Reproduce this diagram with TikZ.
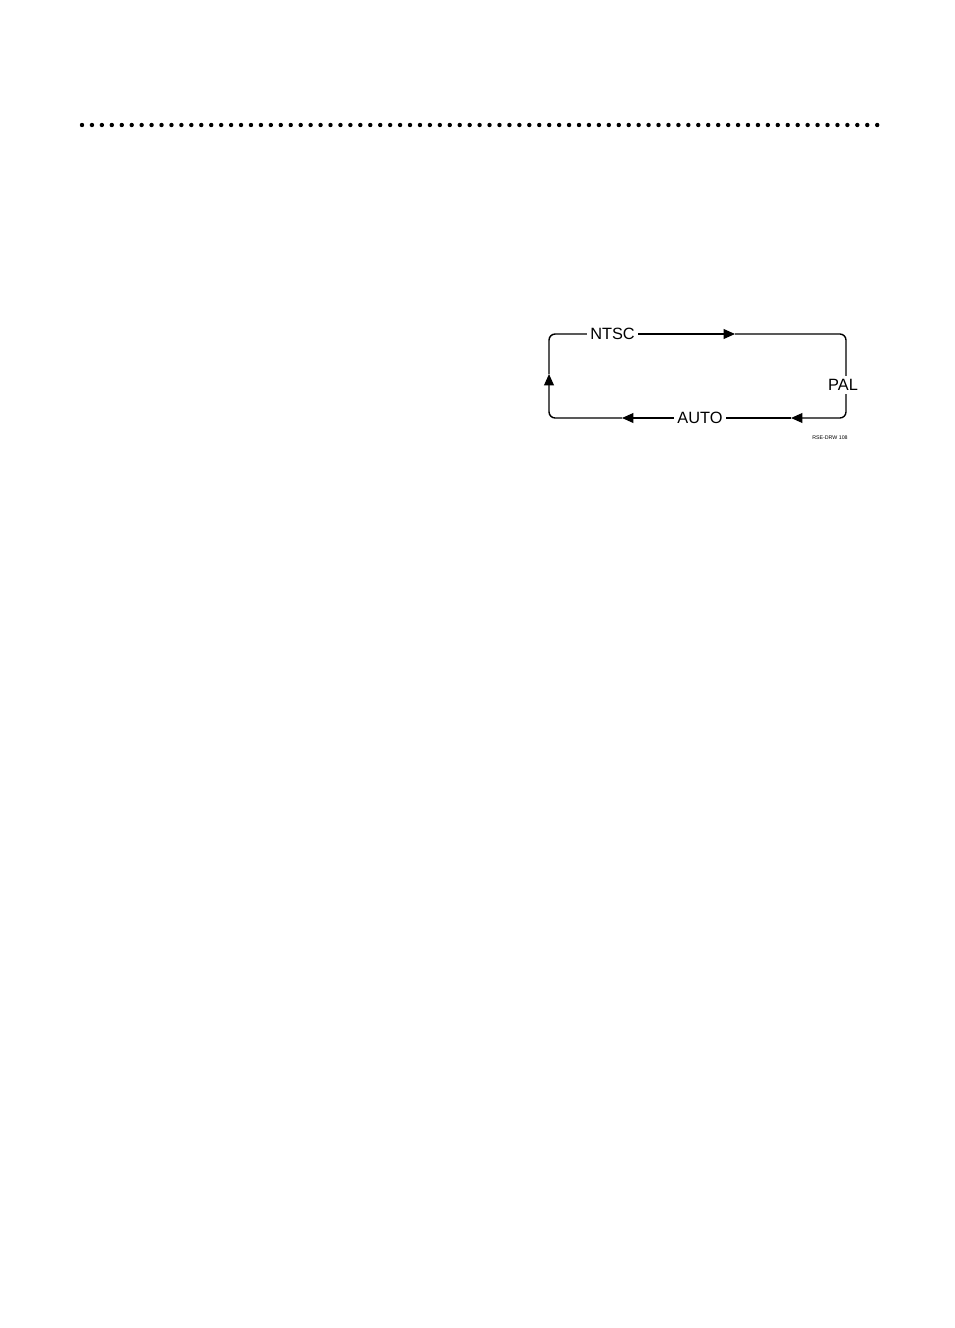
\documentclass[tikz,border=0pt]{standalone}
\usepackage{fontspec}
\setmainfont{Liberation Sans}
\usetikzlibrary{arrows.meta}

\tikzset{
    modelabel/.style={fill=white, inner sep=1.6pt, font=\fontsize{9.3}{10}\selectfont},
    loopline/.style={rounded corners=3.5pt},
    tipline/.style={rounded corners=3.5pt, -{Triangle[length=6.5pt,width=5.6pt]}},
}

\begin{document}
\begin{tikzpicture}[x=0.02cm, y=-0.02cm, line width=0.8pt]
    \useasboundingbox (0,0) rectangle (954,1328);

    % dotted rule
    \foreach \i in {0,...,80}
        \fill (82+9.94*\i,125) circle (2.2);

    % corners and arrow tips
    \coordinate (tl) at (549,334);
    \coordinate (tr) at (846,334);
    \coordinate (br) at (846,418);
    \coordinate (bl) at (549,418);
    \coordinate (tipA) at (735,334);
    \coordinate (tipB) at (791,418);
    \coordinate (tipC) at (622,418);
    \coordinate (tipD) at (549,374);

    \begin{scope}[every node/.style={modelabel}]
        \node (ntsc) at (612.5,334) {NTSC};
        \node (pal) at (843,385) {PAL};
        \node (auto) at (700,418) {AUTO};
    \end{scope}

    \draw[tipline] (ntsc.east) -- (tipA);
    \draw[loopline] (tipA) -- (tr) -- (pal.north -| tr);
    \draw[tipline] (pal.south -| br) -- (br) -- (tipB);
    \draw (tipB) -- (auto.east);
    \draw[tipline] (auto.west) -- (tipC);
    \draw[tipline] (tipC) -- (bl) -- (tipD);
    \draw[loopline] (tipD) -- (tl) -- (ntsc.west);

    \node[font=\fontsize{3}{3.5}\selectfont, inner sep=0pt] (code) at (830,437.5) {RSE-DRW 108};
\end{tikzpicture}
\end{document}
